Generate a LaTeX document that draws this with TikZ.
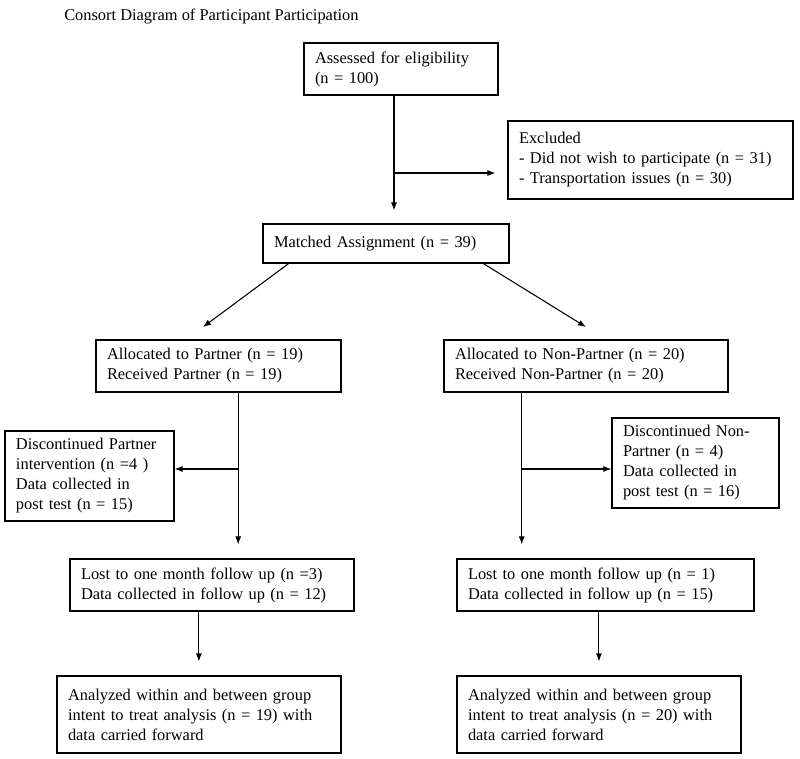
\documentclass[tikz,border=0pt]{standalone}
\usepackage{fontspec}
\setmainfont{Liberation Serif}
\usetikzlibrary{arrows.meta,calc}
\tikzset{
  txt/.style={font=\fontsize{12.3}{15}\selectfont},
  bx/.style 2 args={draw, line width=0.8pt, inner xsep=8.25pt, inner ysep=0pt,
    align=left, text width=#1, minimum height=#2, txt},
  arr/.style={line width=0.8pt, -{Latex[length=6pt,width=4.5pt]}},
}
\begin{document}
\begin{tikzpicture}[x=0.75pt,y=-0.75pt]
\useasboundingbox (0,0) rectangle (800,759);
\node[anchor=base west, inner sep=0pt, txt] (T) at (64,21) {Consort Diagram of Participant Participation};
\node[bx={129pt}{39pt}] (A) at (401,69) {Assessed for eligibility\\(n = 100)};
\node[bx={197.25pt}{58.5pt}] (E) at (650.5,160) {Excluded\\- Did not wish to participate (n = 31)\\- Transportation issues (n = 30)};
\node[bx={168pt}{29.25pt}] (M) at (386,243.5) {Matched Assignment (n = 39)};
\node[bx={167.25pt}{39pt}] (P) at (218.5,366) {Allocated to Partner (n = 19)\\Received Partner (n = 19)};
\node[bx={196.5pt}{39pt}] (N) at (586,366) {Allocated to Non-Partner (n = 20)\\Received Non-Partner (n = 20)};
\node[bx={110.25pt}{67.5pt}] (DP) at (89.5,476) {Discontinued Partner\\intervention (n =4 )\\Data collected in\\post test (n = 15)};
\node[bx={108.75pt}{67.5pt}] (DN) at (695.5,463) {Discontinued Non-\\Partner (n = 4)\\Data collected in\\post test (n = 16)};
\node[bx={196.5pt}{39pt}] (LP) at (212,585) {Lost to one month follow up (n =3)\\Data collected in follow up (n = 12)};
\node[bx={206.25pt}{39pt}] (LN) at (605.5,585) {Lost to one month follow up (n = 1)\\Data collected in follow up (n = 15)};
\node[bx={196.5pt}{57.75pt}] (AP) at (199,714.5) {Analyzed within and between group\\intent to treat analysis (n = 19) with\\data carried forward};
\node[bx={196.5pt}{57.75pt}] (AN) at (599,714.5) {Analyzed within and between group\\intent to treat analysis (n = 20) with\\data carried forward};
% top trunk
\coordinate (a1) at (394,95);
\coordinate (b1) at (394,173);
\draw[arr, shorten >=9.75pt] (A.south -| a1) -- (M.north -| a1);
\draw[arr, shorten >=9pt] (b1) -- (b1 -| E.west);
% diagonals
\coordinate (tl) at (203,327);
\coordinate (tr) at (586,327);
\draw[arr] ($(M.south west)!0.106!(M.south east)$) -- (tl);
\draw[arr] ($(M.south west)!0.894!(M.south east)$) -- (tr);
% left branch
\coordinate (p1) at ($(P.south west)!0.58!(P.south east)$);
\coordinate (p2) at (238,469);
\draw[arr, shorten >=10.5pt] (p1) -- (p1 |- LP.north);
\draw[arr] (p2) -- (p2 -| DP.east);
% right branch
\coordinate (n1) at ($(N.south west)!0.2746!(N.south east)$);
\coordinate (n2) at (522,469);
\draw[arr, shorten >=10.5pt] (n1) -- (n1 |- LN.north);
\draw[arr] (n2) -- (n2 -| DN.west);
% bottom
\coordinate (l1) at ($(LP.south west)!0.454!(LP.south east)$);
\coordinate (r1) at ($(LN.south west)!0.478!(LN.south east)$);
\draw[arr, shorten >=10.5pt] (l1) -- (l1 |- AP.north);
\draw[arr, shorten >=10.5pt] (r1) -- (r1 |- AN.north);
\end{tikzpicture}
\end{document}
